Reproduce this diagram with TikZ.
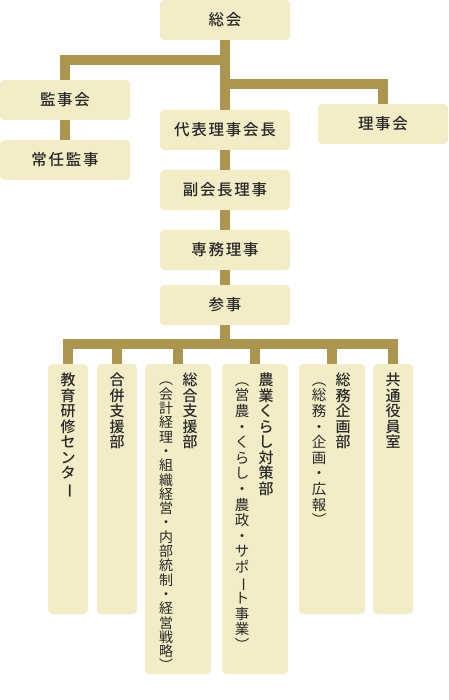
\documentclass[tikz,border=0pt]{standalone}
\usepackage{fontspec}
\setmainfont{Noto Sans CJK JP}
\IfFontExistsTF{Noto Sans CJK JP Medium}{\newfontfamily\medfont{Noto Sans CJK JP Medium}}{\newcommand{\medfont}{\bfseries}}
\usepackage{graphicx}
\definecolor{boxfill}{RGB}{243,237,199}
\definecolor{conncol}{RGB}{172,149,78}
\definecolor{txt}{RGB}{40,40,40}
\newcommand{\vbarch}{\raisebox{0pt}[11pt][1pt]{\rotatebox[origin=c]{-90}{ー}}}
\begin{document}
\begin{tikzpicture}[x=1pt,y=-1pt,
  box/.style={fill=boxfill, rounded corners=4pt, inner sep=0pt, text=txt},
  hbox/.style={box, minimum width=130pt, minimum height=40pt, font=\fontsize{15.5}{18}\medfont\addfontfeatures{LetterSpace=11}},
  nbox/.style={box, minimum width=40pt, minimum height=250pt},
  wbox/.style={box, minimum width=66pt, minimum height=310pt},
  vmain/.style={anchor=north, inner sep=0pt, align=center, text=txt, font=\fontsize{15}{15.5}\medfont},
  vsub/.style={anchor=north, inner sep=0pt, align=center, text=txt, font=\fontsize{14.5}{15.6}\selectfont},
  connector/.style={draw=conncol, line width=10pt, line join=miter}
]
\useasboundingbox (0,0) rectangle (448,700);

\node[hbox] (soukai) at (225,20) {総会};
\node[hbox] (kanjikai) at (65,100) {監事会};
\node[hbox] (jonin) at (65,160) {常任監事};
\node[hbox] (kaicho) at (225,130) {代表理事会長};
\node[hbox] (rijikai) at (383,124) {理事会};
\node[hbox] (fuku) at (225,190) {副会長理事};
\node[hbox] (senmu) at (225,250) {専務理事};
\node[hbox] (sanji) at (225,305) {参事};

\node[nbox] (b1) at (68,489) {};
\node[nbox] (b2) at (117,489) {};
\node[wbox] (b3) at (178,519) {};
\node[wbox] (b4) at (255,519) {};
\node[wbox, minimum height=250pt] (b5) at (332,489) {};
\node[nbox] (b6) at (393,489) {};

\node[vmain] (t1) at (68,373) {\vphantom{会}教\\育\\研\\修\\セ\\ン\\タ\\\vbarch};
\node[vmain] (t2) at (117,373) {\vphantom{会}合\\併\\支\\援\\部};
\node[vmain] (t3) at (190,373) {\vphantom{会}総\\合\\支\\援\\部};
\node[vsub, font=\fontsize{14}{14.3}\selectfont] (s3) at (166,373) {\vphantom{会}︵\\会\\計\\経\\理\\・\\組\\織\\経\\営\\・\\内\\部\\統\\制\\・\\経\\営\\戦\\略\\︶};
\node[vmain] (t4) at (266,373) {\vphantom{会}農\\業\\く\\ら\\し\\対\\策\\部};
\node[vsub] (s4) at (242,373) {\vphantom{会}︵\\営\\農\\・\\く\\ら\\し\\・\\農\\政\\・\\サ\\ポ\\\vbarch\\ト\\事\\業\\︶};
\node[vmain] (t5) at (343,373) {\vphantom{会}総\\務\\企\\画\\部};
\node[vsub] (s5) at (319,373) {\vphantom{会}︵\\総\\務\\・\\企\\画\\・\\広\\報\\︶};
\node[vmain] (t6) at (393,373) {\vphantom{会}共\\通\\役\\員\\室};

\coordinate (j1) at (225,60);
\coordinate (j2) at (225,84);
\coordinate (bus) at (225,344);
\draw[connector] (soukai.south) -- (kaicho.north);
\draw[connector] (j1) -| (kanjikai.north);
\draw[connector] (j2) -| (rijikai.north);
\draw[connector] (kanjikai.south) -- (jonin.north);
\draw[connector] (kaicho.south) -- (fuku.north);
\draw[connector] (fuku.south) -- (senmu.north);
\draw[connector] (senmu.south) -- (sanji.north);
\draw[connector] (sanji.south) -- (bus);
\foreach \b in {b1,b2,b3,b4,b5,b6} \draw[connector] (bus) -| (\b.north);
\end{tikzpicture}
\end{document}
